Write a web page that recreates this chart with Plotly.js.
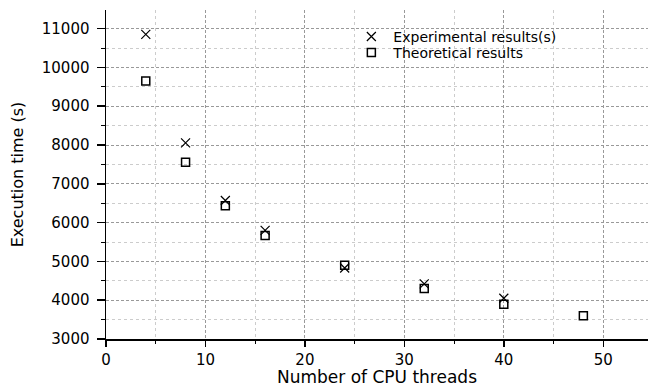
<!DOCTYPE html>
<html>
<head>
<meta charset="utf-8">
<script src="https://cdn.plot.ly/plotly-3.0.1.min.js"></script>
<style>html,body{margin:0;padding:0;background:#fff;}#chart{width:648px;height:387px;}</style>
</head>
<body>
<div id="chart"></div>
<script>
const threadsExp = [4, 8, 12, 16, 24, 32, 40];
const timeExp = [10850, 8055, 6570, 5800, 4830, 4420, 4050];
const threadsTheo = [4, 8, 12, 16, 24, 32, 40, 48];
const timeTheo = [9650, 7555, 6435, 5670, 4900, 4300, 3895, 3600];
const seriesNames = ['Experimental results(s)', 'Theoretical results'];
const xTitle = 'Number of CPU threads';
const yTitle = 'Execution time (s)';

const FONT = 'DejaVu Sans, Arial, sans-serif';
const traces = [
  {x: threadsExp, y: timeExp, name: seriesNames[0], type: 'scatter', mode: 'markers', legend: 'legend',
   marker: {symbol: 'x-thin-open', size: 9, color: '#000', line: {color: '#000', width: 1.2}}},
  {x: threadsTheo, y: timeTheo, name: seriesNames[1], type: 'scatter', mode: 'markers', legend: 'legend2',
   marker: {symbol: 'square-open', size: 8, color: '#000', line: {color: '#000', width: 1.5}}}
];
const xr = [0, 54.5], yr = [3000, 11480];
const legBase = {xanchor: 'left', yanchor: 'top', bgcolor: 'rgba(0,0,0,0)', itemwidth: 34,
                 font: {family: FONT, size: 14, color: '#000'}};
const layout = {
  width: 648, height: 387,
  margin: {l: 106, r: 0, t: 10, b: 48},
  paper_bgcolor: '#fff', plot_bgcolor: '#fff',
  font: {family: FONT, size: 14, color: '#000'},
  showlegend: true,
  legend: Object.assign({x: 0.449, y: 0.967}, legBase),
  legend2: Object.assign({x: 0.449, y: 0.918}, legBase),
  xaxis: {
    range: xr, dtick: 10, tick0: 0, tickformat: 'd', showline: true, linecolor: '#000', linewidth: 1.5,
    ticks: 'outside', ticklen: 6, tickwidth: 1.5, tickcolor: '#000', zeroline: false,
    showgrid: true, gridcolor: '#999', gridwidth: 1, griddash: '3px,2px',
    tickfont: {family: FONT, size: 15},
    minor: {dtick: 5, ticks: 'outside', ticklen: 3, tickcolor: '#000', tickwidth: 1,
            showgrid: true, gridcolor: '#ccc', griddash: 'dot', gridwidth: 1},
    title: {text: xTitle, font: {family: FONT, size: 17}, standoff: 9}
  },
  xaxis2: {
    range: xr, dtick: 10, tick0: 0, overlaying: 'x', side: 'top', anchor: 'y',
    showline: true, linecolor: '#000', linewidth: 1.5, ticks: 'inside', ticklen: 5,
    tickwidth: 1.5, tickcolor: '#000', showticklabels: false, showgrid: false, zeroline: false,
    minor: {dtick: 5, ticks: 'inside', ticklen: 3, tickcolor: '#000', tickwidth: 1}
  },
  yaxis: {
    range: yr, dtick: 1000, tick0: 3000, tickformat: 'd', showline: true, linecolor: '#000', linewidth: 1.5,
    ticks: 'outside', ticklen: 8, tickwidth: 1.5, tickcolor: '#000', zeroline: false,
    showgrid: true, gridcolor: '#999', gridwidth: 1, griddash: '3px,2px',
    tickfont: {family: FONT, size: 15}, ticklabelstandoff: 4,
    minor: {dtick: 500, ticks: 'outside', ticklen: 4, tickcolor: '#000', tickwidth: 1,
            showgrid: true, gridcolor: '#ccc', griddash: 'dot', gridwidth: 1},
    title: {text: yTitle, font: {family: FONT, size: 16}, standoff: 14}
  },
  yaxis2: {
    range: yr, dtick: 1000, tick0: 3000, overlaying: 'y', side: 'right', anchor: 'x',
    showline: true, linecolor: '#000', linewidth: 1.5, ticks: 'inside', ticklen: 6,
    tickwidth: 1.5, tickcolor: '#000', showticklabels: false, showgrid: false, zeroline: false,
    minor: {dtick: 500, ticks: 'inside', ticklen: 3, tickcolor: '#000', tickwidth: 1}
  }
};
Plotly.newPlot('chart', traces, layout, {displayModeBar: false, staticPlot: true});
</script>
</body>
</html>
